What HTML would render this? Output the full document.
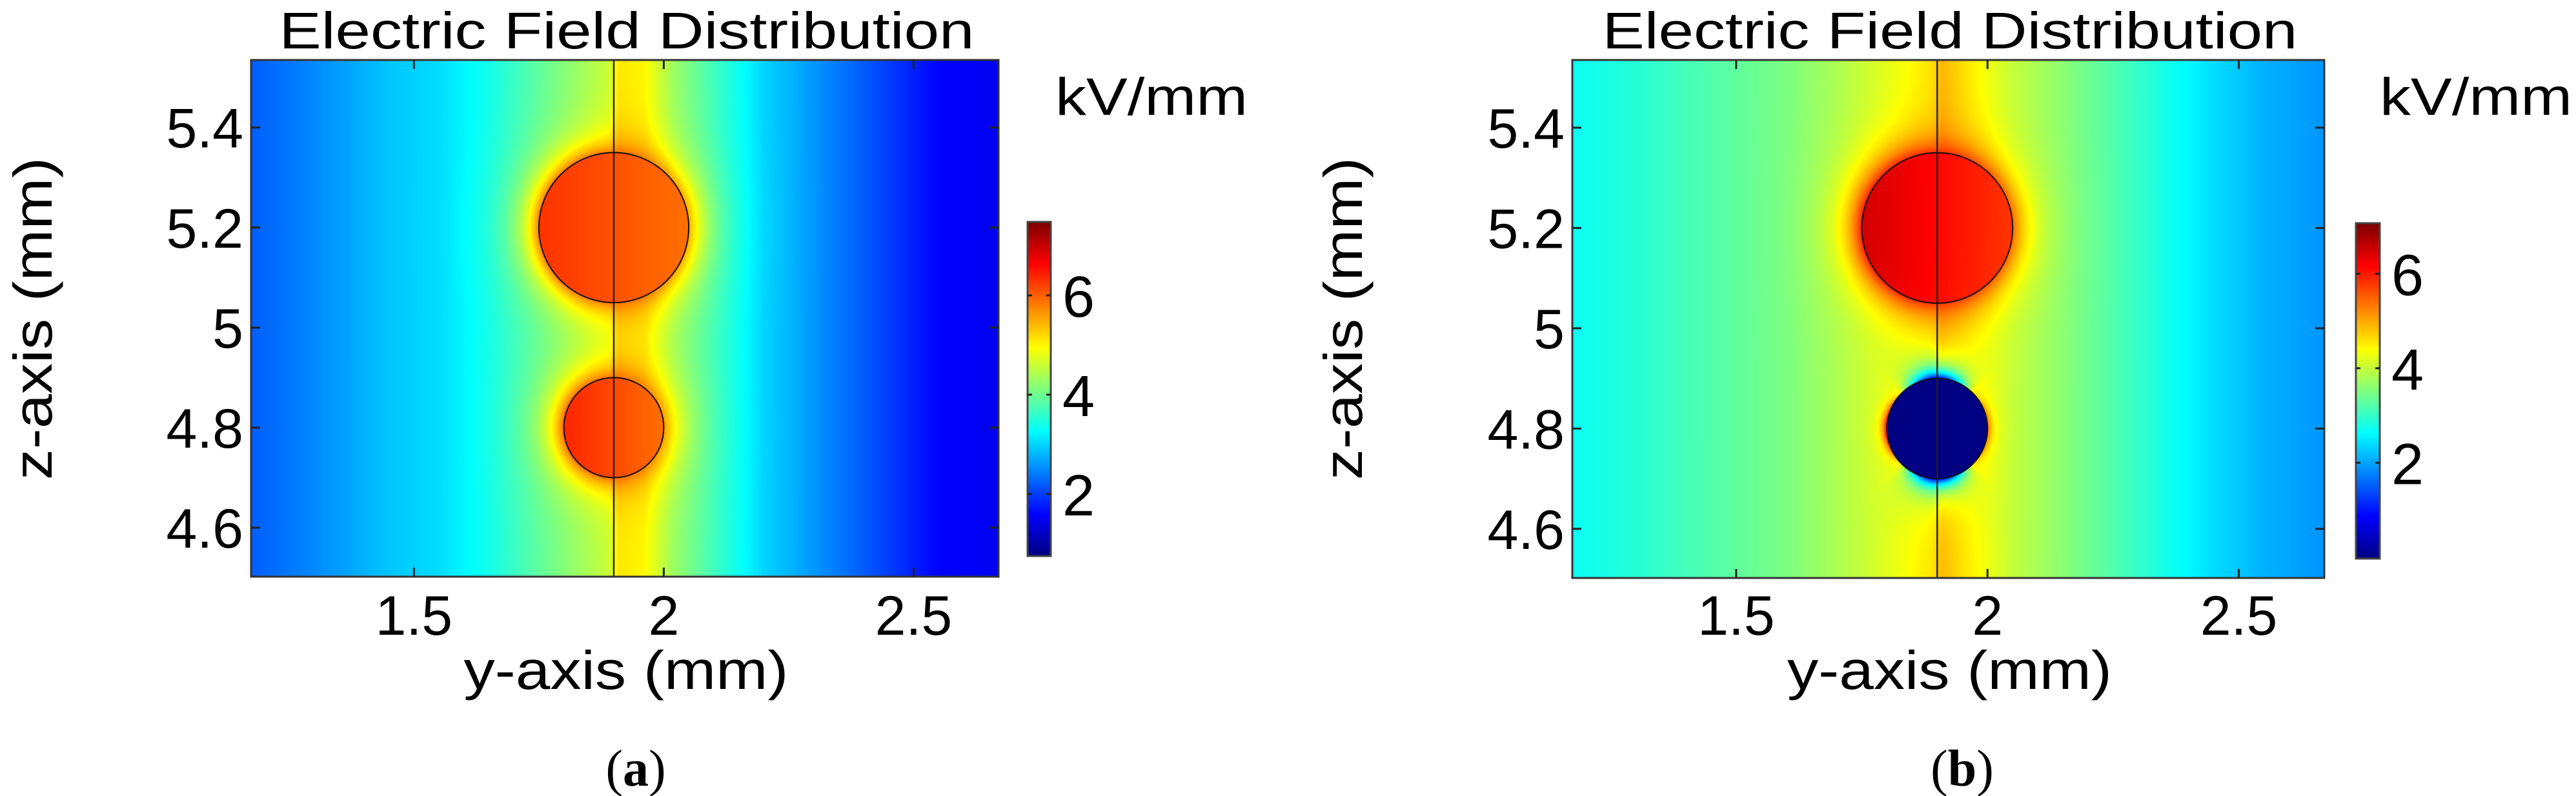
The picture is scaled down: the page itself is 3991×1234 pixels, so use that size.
<!DOCTYPE html>
<html><head><meta charset="utf-8">
<style>
html,body{margin:0;padding:0;background:#fff;}
#root{position:relative;width:3991px;height:1234px;overflow:hidden;background:#fff;font-family:"Liberation Sans","DejaVu Sans",sans-serif;}
canvas{position:absolute;}
svg{position:absolute;left:0;top:0;}
</style></head>
<body>
<div id="root">
<canvas id="hmA"></canvas>
<canvas id="hmB"></canvas>
<canvas id="cbA"></canvas>
<canvas id="cbB"></canvas>
<svg id="ov" width="3991" height="1234"></svg>
</div>
<script>
// ---- data ----
const xTicks = [1.5, 2, 2.5];
const xTickLabels = ["1.5", "2", "2.5"];
const zTicks = [4.6, 4.8, 5.0, 5.2, 5.4];
const zTickLabels = ["4.6", "4.8", "5", "5.2", "5.4"];
const cbTicks = [2, 4, 6];
const cbTickLabels = ["2", "4", "6"];
const xDomain = [1.174, 2.67];
const zDomain = [4.502, 5.535];
const interfaceY = 1.9;
// panel a
const profileA_y = [1.17, 1.3, 1.45, 1.55, 1.65, 1.75, 1.85, 1.89, 1.91, 1.96, 2.02, 2.1, 2.2, 2.3, 2.45, 2.55, 2.67];
const profileA_v = [2.2, 2.5, 2.9, 3.05, 3.4, 3.9, 4.4, 4.6, 5.1, 5.0, 4.3, 3.7, 3.0, 2.6, 2.0, 1.6, 1.5];
const circlesA_cy = [5.2, 4.8];
const circlesA_r = [0.15, 0.1];
const circlesA_vLeft = [6.3, 6.4];
const circlesA_vRight = [5.9, 5.9];
const cbRangeA = [0.75, 7.48];
// panel b
const profileB_y = [1.17, 1.3, 1.45, 1.6, 1.72, 1.82, 1.89, 1.91, 1.97, 2.05, 2.15, 2.25, 2.35, 2.45, 2.55, 2.67];
const profileB_v = [2.7, 2.9, 3.2, 3.5, 3.9, 4.3, 4.6, 4.9, 4.5, 4.0, 3.6, 3.2, 2.8, 2.4, 2.1, 1.9];
const circlesB_cy = [5.2, 4.8];
const circlesB_r = [0.15, 0.1];
const circlesB_vLeft = [6.5, 0.0];
const circlesB_vRight = [5.8, 0.0];
const cbRangeB = [-0.03, 7.07];

// ---- layout ----
const panels = [
 {id:'a', hm:'hmA', cb:'cbA', L:389, R:1547, T:93, B:894, cbL:1592, cbR:1628, cbT:344, cbB:862,
  prY:profileA_y, prV:profileA_v, cy:circlesA_cy, r:circlesA_r, vl:circlesA_vLeft, vr:circlesA_vRight, range:cbRangeA, dip:false,
  titleX:971, kvX:1635, capX:985},
 {id:'b', hm:'hmB', cb:'cbB', L:2436, R:3601, T:93, B:896, cbL:3650, cbR:3687, cbT:346, cbB:866,
  prY:profileB_y, prV:profileB_v, cy:circlesB_cy, r:circlesB_r, vl:circlesB_vLeft, vr:circlesB_vRight, range:cbRangeB, dip:true,
  titleX:3021, kvX:3687, capX:3040}
];

function jet(t){
  t=Math.max(0,Math.min(1,t));
  const f=(x)=>Math.max(0,Math.min(1,x));
  const r=f(1.5-Math.abs(4*t-3)), g=f(1.5-Math.abs(4*t-2)), b=f(1.5-Math.abs(4*t-1));
  return [r*255|0,g*255|0,b*255|0];
}
function interp(xs,vs,x){
  if(x<=xs[0])return vs[0];
  for(let i=1;i<xs.length;i++){ if(x<=xs[i]){const t=(x-xs[i-1])/(xs[i]-xs[i-1]);return vs[i-1]+t*(vs[i]-vs[i-1]);} }
  return vs[vs.length-1];
}

const svgNS='http://www.w3.org/2000/svg';
const ov=document.getElementById('ov');
function mk(tag,attrs,parent){const e=document.createElementNS(svgNS,tag);for(const k in attrs)e.setAttribute(k,attrs[k]);(parent||ov).appendChild(e);return e;}

panels.forEach(p=>{
  const sx=v=>p.L+(v-xDomain[0])/(xDomain[1]-xDomain[0])*(p.R-p.L);
  const sz=v=>p.B-(v-zDomain[0])/(zDomain[1]-zDomain[0])*(p.B-p.T);
  const pxPerMM=(p.R-p.L)/(xDomain[1]-xDomain[0]);
  const pzPerMM=(p.B-p.T)/(zDomain[1]-zDomain[0]);
  const W=p.R-p.L, H=p.B-p.T;
  const cv=document.getElementById(p.hm);
  cv.width=W;cv.height=H;cv.style.left=p.L+'px';cv.style.top=p.T+'px';
  const ctx=cv.getContext('2d');const img=ctx.createImageData(W,H);
  const [vmin,vmax]=p.range;
  for(let j=0;j<H;j++){
    const z=zDomain[1]-(j+0.5)/pzPerMM;
    for(let i=0;i<W;i++){
      const y=xDomain[0]+(i+0.5)/pxPerMM;
      let v=interp(p.prY,p.prV,y);
      for(let k=0;k<p.cy.length;k++){
        const dy=y-interfaceY, dz=z-p.cy[k];
        const d=Math.sqrt(dy*dy+dz*dz), r=p.r[k];
        const cvv=p.vl[k]+(p.vr[k]-p.vl[k])*Math.max(0,Math.min(1,(dy+r)/(2*r)));
        if(d<=r){v=cvv;}
        else if(p.dip && cvv<1){
          const c2=(dy*dy-dz*dz)/(d*d);
          if(c2>0){ const side = dy<0?0.55:0.3; v=v*(1+side*c2*Math.pow(r/d,12)); }
          else { v=v*(1+0.85*c2*Math.pow(r/d,5)); }
        } else {
          const w=0.035;
          v=v+(cvv-v)*Math.exp(-(d-r)/w)*0.8;
        }
      }
      const c=jet((v-vmin)/(vmax-vmin));
      const o=(j*W+i)*4;img.data[o]=c[0];img.data[o+1]=c[1];img.data[o+2]=c[2];img.data[o+3]=255;
    }
  }
  ctx.putImageData(img,0,0);
  const cb=document.getElementById(p.cb);
  const cw=p.cbR-p.cbL, ch=p.cbB-p.cbT;
  cb.width=cw;cb.height=ch;cb.style.left=p.cbL+'px';cb.style.top=p.cbT+'px';
  const cctx=cb.getContext('2d');
  for(let j=0;j<ch;j++){const c=jet(1-j/ch);cctx.fillStyle=`rgb(${c[0]},${c[1]},${c[2]})`;cctx.fillRect(0,j,cw,1);}
  const g=mk('g',{});
  
  
  const il=mk('line',{x1:sx(interfaceY),x2:sx(interfaceY),y1:p.T,y2:p.B,stroke:'#222','stroke-width':2.5},g);
  
  
  for(let k=0;k<p.cy.length;k++){
    const e=mk('ellipse',{cx:sx(interfaceY),cy:sz(p.cy[k]),rx:p.r[k]*pxPerMM,ry:p.r[k]*pzPerMM,fill:'none',stroke:'#111','stroke-width':2},g);
    
    
  }
  const fr=mk('rect',{x:p.L,y:p.T,width:p.R-p.L,height:p.B-p.T,fill:'none',stroke:'#333','stroke-width':3},g);
  
  
  const cfr=mk('rect',{x:p.cbL,y:p.cbT,width:cw,height:ch,fill:'none',stroke:'#444','stroke-width':3},g);
  
  
  xTicks.forEach((t,i)=>{
    const x=sx(t);
    mk('line',{x1:x,x2:x,y1:p.B,y2:p.B-14,stroke:'#222','stroke-width':3},g);
    mk('line',{x1:x,x2:x,y1:p.T,y2:p.T+14,stroke:'#222','stroke-width':3},g);
    const tx=mk('text',{x:x,y:984,'font-size':86,'text-anchor':'middle',fill:'#000'},g);
    tx.textContent=xTickLabels[i];
    
    
  });
  zTicks.forEach((t,i)=>{
    const y=sz(t);
    mk('line',{x1:p.L,x2:p.L+14,y1:y,y2:y,stroke:'#222','stroke-width':3},g);
    mk('line',{x1:p.R,x2:p.R-14,y1:y,y2:y,stroke:'#222','stroke-width':3},g);
    const tx=mk('text',{x:p.L-12,y:y+31,'font-size':86,'text-anchor':'end',fill:'#000'},g);
    tx.textContent=zTickLabels[i];
    
    
  });
  cbTicks.forEach((t,i)=>{
    const y=p.cbB-(t-vmin)/(vmax-vmin)*ch;
    mk('line',{x1:p.cbL,x2:p.cbL+7,y1:y,y2:y,stroke:'#222','stroke-width':3},g);
    mk('line',{x1:p.cbR,x2:p.cbR-7,y1:y,y2:y,stroke:'#222','stroke-width':3},g);
    const tx=mk('text',{x:p.cbR+18,y:y+33,'font-size':90,fill:'#000'},g);
    tx.textContent=cbTickLabels[i];
    
    
  });
  const title=mk('text',{x:p.titleX,y:75,'font-size':80,'text-anchor':'middle',textLength:1077,lengthAdjust:'spacingAndGlyphs',fill:'#000'},g);
  title.textContent='Electric Field Distribution';
  
  
  const kv=mk('text',{x:p.kvX,y:178,'font-size':82,fill:'#000',textLength:298,lengthAdjust:'spacingAndGlyphs'},g);
  kv.textContent='kV/mm';
  
  
  const xl=mk('text',{x:(p.L+p.R)/2+2,y:1068,'font-size':84,'text-anchor':'middle',fill:'#000',textLength:503,lengthAdjust:'spacingAndGlyphs'},g);
  xl.textContent='y-axis (mm)';
  
  
  const zl=mk('text',{x:0,y:0,'font-size':84,'text-anchor':'middle',fill:'#000',textLength:500,lengthAdjust:'spacingAndGlyphs',transform:`translate(${p.id==='a'?80:2110},494) rotate(-90)`},g);
  zl.textContent='z-axis (mm)';
  
  
  const cap=mk('text',{x:p.capX,y:1218,'font-size':80,'text-anchor':'middle',fill:'#000','font-family':'"Liberation Serif",serif'},g);
  cap.innerHTML='(<tspan font-weight="bold">'+p.id+'</tspan>)';
  
  
});
</script>
</body></html>
